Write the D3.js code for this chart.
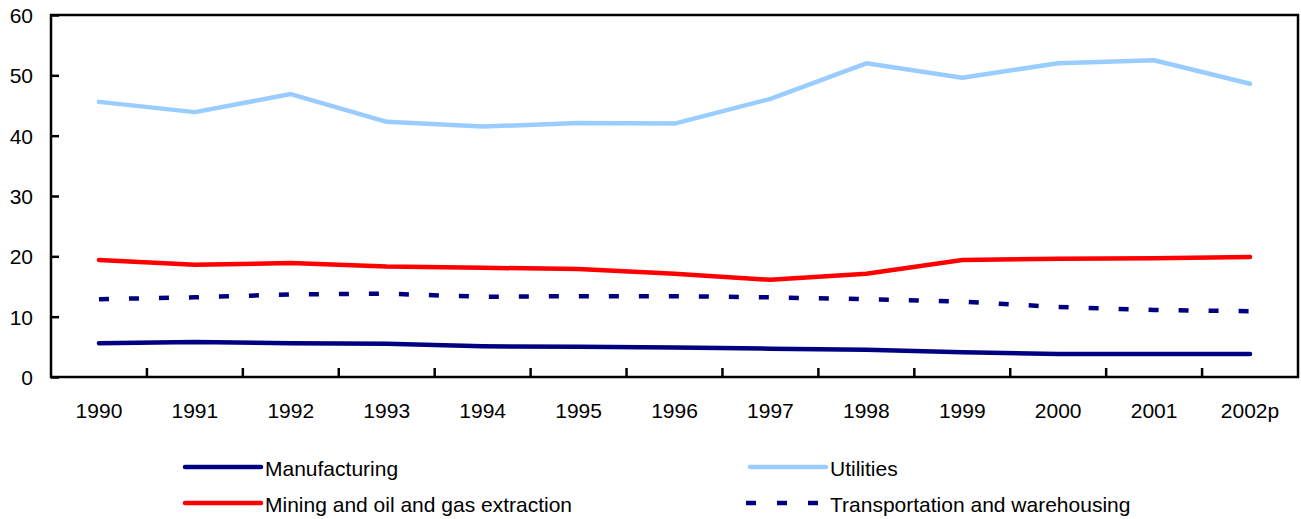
<!DOCTYPE html>
<html>
<head>
<meta charset="utf-8">
<script src="https://cdn.jsdelivr.net/npm/d3@7"></script>
<style>
  body { margin: 0; background: #fff; }
  text { font-family: "Liberation Sans", Arial, Helvetica, sans-serif; fill: #000; }
</style>
</head>
<body>
<div id="chart"></div>
<script>
var years = ['1990', '1991', '1992', '1993', '1994', '1995', '1996', '1997', '1998', '1999', '2000', '2001', '2002p'];
var manufacturing = [5.6, 5.8, 5.6, 5.5, 5.1, 5.0, 4.9, 4.7, 4.5, 4.1, 3.8, 3.8, 3.8];
var utilities = [45.6, 43.9, 46.9, 42.3, 41.5, 42.1, 42.0, 46.1, 52.0, 49.6, 52.0, 52.5, 48.6];
var mining = [19.4, 18.6, 18.9, 18.3, 18.1, 17.9, 17.1, 16.1, 17.1, 19.4, 19.6, 19.7, 19.9];
var transport = [12.9, 13.2, 13.7, 13.8, 13.3, 13.4, 13.4, 13.2, 12.9, 12.5, 11.6, 11.1, 10.9];
var yTicks = [0, 10, 20, 30, 40, 50, 60];

var series = [
  { name: 'Manufacturing', values: manufacturing, color: '#000080', dash: null },
  { name: 'Utilities', values: utilities, color: '#99ccff', dash: null },
  { name: 'Mining and oil and gas extraction', values: mining, color: '#ff0000', dash: null },
  { name: 'Transportation and warehousing', values: transport, color: '#000080', dash: '10,20' }
];

var W = 1301, H = 519;
var plotL = 51, plotT = 15, plotR = 1298, plotB = 377;
var FONT = 21;

var svg = d3.select('#chart').append('svg')
  .attr('width', W)
  .attr('height', H);

var x = d3.scaleBand()
  .domain(years)
  .range([plotL, plotR]);

var y = d3.scaleLinear()
  .domain([0, 60])
  .range([plotB, plotT]);

// frame
svg.append('rect')
  .attr('x', plotL)
  .attr('y', plotT)
  .attr('width', plotR - plotL)
  .attr('height', plotB - plotT)
  .attr('fill', 'none')
  .attr('stroke', '#000')
  .attr('stroke-width', 2.5);

// y axis
var yAxis = d3.axisLeft(y)
  .tickValues(yTicks)
  .tickSize(-8)
  .tickFormat(d3.format('d'));

var gy = svg.append('g')
  .attr('transform', 'translate(' + plotL + ',0)')
  .call(yAxis);
gy.select('.domain').remove();
gy.selectAll('.tick line').attr('stroke', '#000').attr('stroke-width', 2.5);
gy.selectAll('.tick text')
  .attr('font-size', FONT)
  .attr('font-family', '"Liberation Sans", Arial, sans-serif')
  .attr('fill', '#000')
  .attr('dy', '0.35em')
  .attr('x', -18);

// x axis: ticks sit between categories
var boundaries = years.slice(1).map(function(d) { return x(d); });
svg.append('g')
  .selectAll('line')
  .data(boundaries)
  .enter().append('line')
    .attr('x1', function(d) { return d; })
    .attr('x2', function(d) { return d; })
    .attr('y1', plotB)
    .attr('y2', plotB - 9)
    .attr('stroke', '#000')
    .attr('stroke-width', 2.5);

svg.append('g')
  .selectAll('text')
  .data(years)
  .enter().append('text')
    .attr('x', function(d) { return x(d) + x.bandwidth() / 2; })
    .attr('y', 418)
    .attr('text-anchor', 'middle')
    .attr('font-size', FONT)
    .text(function(d) { return d; });

// lines
var line = d3.line()
  .x(function(d, i) { return x(years[i]) + x.bandwidth() / 2; })
  .y(function(d) { return y(d); });

var drawOrder = [series[1], series[2], series[3], series[0]];
drawOrder.forEach(function(s) {
  svg.append('path')
    .datum(s.values)
    .attr('d', line)
    .attr('fill', 'none')
    .attr('stroke', s.color)
    .attr('stroke-width', 4.5)
    .attr('stroke-linejoin', 'round')
    .attr('stroke-linecap', s.dash ? 'butt' : 'round')
    .attr('stroke-dasharray', s.dash);
});

// legend
var legendPos = [
  { x: 183, y: 467 },
  { x: 748, y: 467 },
  { x: 183, y: 503 },
  { x: 748, y: 503 }
];

series.forEach(function(s, i) {
  var p = legendPos[i];
  var g = svg.append('g').attr('transform', 'translate(' + p.x + ',' + p.y + ')');
  g.append('line')
    .attr('x1', s.dash ? -2 : 2)
    .attr('x2', s.dash ? 72 : 78)
    .attr('y1', 0)
    .attr('y2', 0)
    .attr('stroke', s.color)
    .attr('stroke-width', 4.5)
    .attr('stroke-linecap', s.dash ? 'butt' : 'round')
    .attr('stroke-dasharray', s.dash ? '10,21' : null);
  g.append('text')
    .attr('x', 82)
    .attr('y', 2)
    .attr('dy', '0.35em')
    .attr('font-size', FONT)
    .text(s.name);
});
</script>
</body>
</html>
